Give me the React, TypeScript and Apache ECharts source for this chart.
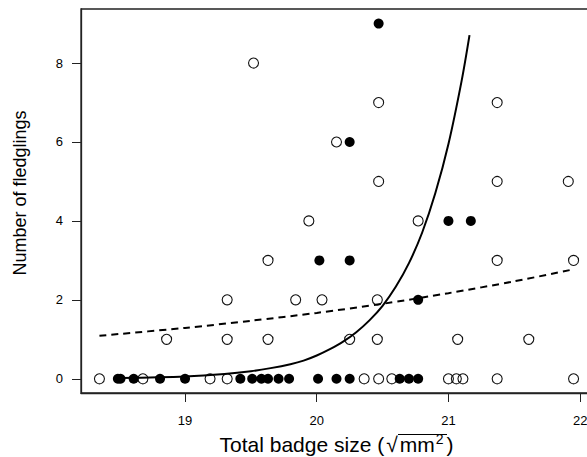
import React, { useEffect, useRef } from "react";
import * as echarts from "echarts";

// Badge size (sqrt mm^2) and number of fledglings, open symbols
const openX = [
  18.35, 18.68, 19.19, 19.32, 20.36, 20.47, 20.57, 21.0, 21.06, 21.11, 21.37, 21.95,
  18.86, 19.32, 19.63, 20.25, 20.46, 21.07, 21.61,
  19.32, 19.84, 20.04, 20.46,
  19.63, 21.37, 21.95,
  19.94, 20.77,
  20.47, 21.37, 21.91,
  20.15,
  20.47, 21.37,
  19.52,
];
const openY = [
  0, 0, 0, 0, 0, 0, 0, 0, 0, 0, 0, 0,
  1, 1, 1, 1, 1, 1, 1,
  2, 2, 2, 2,
  3, 3, 3,
  4, 4,
  5, 5, 5,
  6,
  7, 7,
  8,
];

// Filled symbols
const filledX = [
  18.49, 18.51, 18.61, 18.81, 19.0, 19.42, 19.51, 19.58, 19.63, 19.71, 19.79, 20.01,
  20.15, 20.25, 20.63, 20.7, 20.77,
  20.77,
  20.02, 20.25,
  21.0, 21.17,
  20.25,
  20.47,
];
const filledY = [
  0, 0, 0, 0, 0, 0, 0, 0, 0, 0, 0, 0,
  0, 0, 0, 0, 0,
  2,
  3, 3,
  4, 4,
  6,
  9,
];

// Fitted curves
const solidFitX = [18.5, 19.0, 19.3, 19.5, 19.65, 19.8, 19.9, 20.0, 20.1, 20.2, 20.3, 20.4, 20.5, 20.6, 20.7, 20.8, 20.9, 21.0, 21.1, 21.16];
const solidFitY = [0.02, 0.06, 0.12, 0.19, 0.27, 0.37, 0.46, 0.59, 0.75, 0.94, 1.18, 1.48, 1.85, 2.33, 2.93, 3.7, 4.7, 5.95, 7.55, 8.71];
const dashedFitX = [18.35, 19.0, 19.5, 20.0, 20.5, 21.0, 21.5, 21.93];
const dashedFitY = [1.09, 1.29, 1.47, 1.67, 1.9, 2.17, 2.47, 2.76];

const xTicks = [19, 20, 21, 22];
const yTicks = [0, 2, 4, 6, 8];

const FONT = "'Liberation Sans', Arial, Helvetica, sans-serif";

export default function App() {
  const ref = useRef<HTMLDivElement>(null);
  useEffect(() => {
    if (!ref.current) return;
    const chart = echarts.init(ref.current, undefined, { renderer: "svg" });
    const zip = (xs: number[], ys: number[]) => xs.map((x, i) => [x, ys[i]]);
    chart.setOption({
      animation: false,
      backgroundColor: "#fff",
      textStyle: { fontFamily: FONT },
      grid: {
        left: 81, top: 9, right: -5, bottom: 64,
        containLabel: false, outerBoundsMode: "none",
        show: true, borderColor: "#222", borderWidth: 1.3, backgroundColor: "transparent",
      },
      xAxis: {
        type: "value",
        min: 18.21,
        max: 22.09,
        name: "{a|Total badge size (}{r|√}{a|mm}{s|2}{a|)}",
        nameLocation: "middle",
        nameGap: 39,
        nameTextStyle: {
          rich: {
            a: { fontSize: 21, fontFamily: FONT, color: "#000" },
            r: { fontSize: 21, fontFamily: FONT, color: "#000", padding: [0, 2, 0, 2] },
            s: { fontSize: 14, fontFamily: FONT, color: "#000", padding: [0, 3, 10, 1] },
          },
        },
        axisLine: { show: true, onZero: false, lineStyle: { color: "#222", width: 1.3 } },
        axisTick: { show: true, inside: false, length: 9, customValues: xTicks, lineStyle: { color: "#222", width: 1 } },
        axisLabel: { customValues: xTicks, margin: 21, fontSize: 13, color: "#000", fontFamily: FONT },
        splitLine: { show: false },
      },
      yAxis: {
        type: "value",
        min: -0.36,
        max: 9.37,
        name: "Number of fledglings",
        nameLocation: "middle",
        nameGap: 52,
        nameTextStyle: { fontSize: 18, color: "#000", fontFamily: FONT, padding: [0, 0, 0, 16] },
        axisLine: { show: true, onZero: false, lineStyle: { color: "#222", width: 1.3 } },
        axisTick: { show: true, inside: false, length: 9, customValues: yTicks, lineStyle: { color: "#222", width: 1 } },
        axisLabel: { customValues: yTicks, margin: 18, fontSize: 13, color: "#000", fontFamily: FONT },
        splitLine: { show: false },
      },
      series: [
        {
          type: "scatter",
          name: "open",
          data: zip(openX, openY),
          symbol: "circle",
          symbolSize: 10,
          itemStyle: { color: "transparent", borderColor: "#111", borderWidth: 1.1, opacity: 1 },
          z: 2,
        },
        {
          type: "scatter",
          name: "filled",
          data: zip(filledX, filledY),
          symbol: "circle",
          symbolSize: 10,
          itemStyle: { color: "#000", opacity: 1 },
          z: 3,
        },
        {
          type: "line",
          name: "solid fit",
          data: zip(solidFitX, solidFitY),
          showSymbol: false,
          symbol: "none",
          smooth: 0.3,
          lineStyle: { color: "#000", width: 2 },
          z: 4,
        },
        {
          type: "line",
          name: "dashed fit",
          data: zip(dashedFitX, dashedFitY),
          showSymbol: false,
          symbol: "none",
          smooth: 0.3,
          lineStyle: { color: "#000", width: 2, type: [7, 5] },
          z: 4,
        },
      ],
      graphic: [
        { type: "line", shape: { x1: 398, y1: 434.5, x2: 447, y2: 434.5 }, style: { stroke: "#000", lineWidth: 1 } },
      ],
    });
    return () => chart.dispose();
  }, []);
  return <div ref={ref} style={{ position: "fixed", left: 0, top: 0, width: 587, height: 457 }} />;
}
